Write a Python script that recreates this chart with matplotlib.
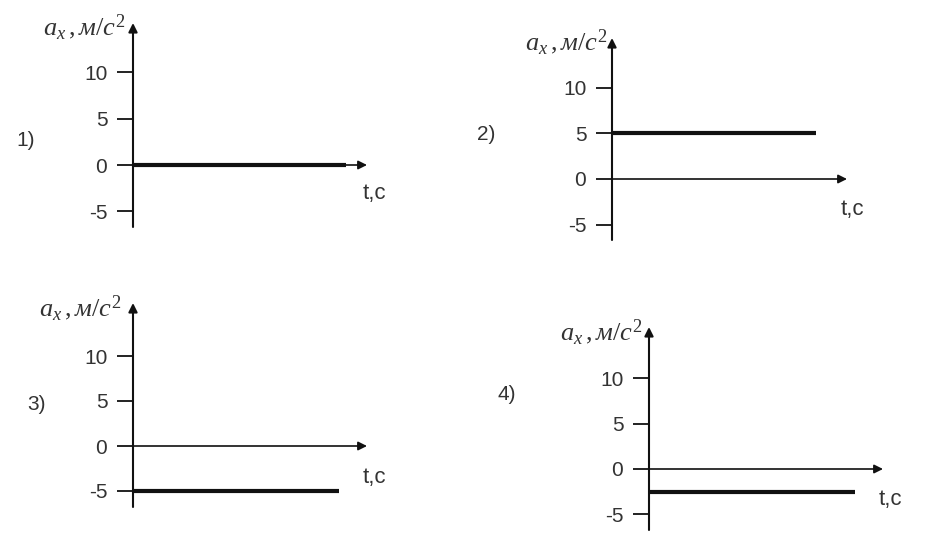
import matplotlib
matplotlib.use("Agg")
import matplotlib.pyplot as plt

W, H = 926, 538

plt.rcParams["font.family"] = ["Liberation Sans", "DejaVu Sans"]
plt.rcParams["mathtext.fontset"] = "custom"
plt.rcParams["mathtext.it"] = "Liberation Serif:italic"
plt.rcParams["mathtext.rm"] = "Liberation Serif"

# data: acceleration per graph and the time where the line stops
panel_names = ["1)", "2)", "3)", "4)"]
accel = [0, 5, -5, -2.5]
t_end = [9.1, 8.7, 8.8, 8.8]
y_ticks = [-5, 0, 5, 10]
y_label = r"$a_x\,,м/c^2$"
x_label = "t,c"

# layout in pixels: axis x, arrow top, axis bottom, arrow right, zero row, px per unit
boxes = [
    (133, 23, 227, 367, 165, 9.27),
    (612, 38, 240, 847, 179, 9.13),
    (133, 303, 507, 367, 446, 9.0),
    (649, 327, 530, 883, 469, 9.07),
]
name_pos = [(16, 140), (477, 135), (27, 405), (498, 395)]
tlab_pos = [(363, 193), (841, 210), (363, 478), (879, 500)]
ylab_pos = [(126, 35), (608, 50), (122, 316), (643, 340)]

fig = plt.figure(figsize=(W / 100, H / 100), dpi=100)
fig.patch.set_facecolor("white")

for i in range(4):
    x0, ytop, ybot, xr, yz, ppu = boxes[i]
    ax = fig.add_axes([x0 / W, 1 - ybot / H, (xr - x0) / W, (ybot - ytop) / H])
    ax.set_xlim(0, 10)
    ax.set_ylim((yz - ybot) / ppu, (yz - ytop) / ppu)
    for s in ax.spines.values():
        s.set_visible(False)
    ax.patch.set_alpha(0)
    ax.set_xticks([])
    ax.set_yticks(y_ticks)
    ax.set_yticklabels([str(v) for v in y_ticks], fontsize=15, color="#333333")
    ax.tick_params(axis="y", length=11.5, width=1.4, pad=7, direction="out",
                   color="#222222")

    # y axis with arrow
    ax.annotate("", xy=(0, 1), xytext=(0, 0), xycoords="axes fraction",
                arrowprops=dict(arrowstyle="-|>", mutation_scale=13, lw=1.5,
                                color="#111111", shrinkA=0, shrinkB=0))
    # t axis with arrow
    ax.annotate("", xy=(1, 0), xytext=(0, 0), xycoords=("axes fraction", "data"),
                arrowprops=dict(arrowstyle="-|>", mutation_scale=13, lw=1.2,
                                color="#111111", shrinkA=0, shrinkB=0))
    ax.plot([0, t_end[i]], [accel[i], accel[i]], color="#111111", lw=3,
            solid_capstyle="butt", clip_on=False)

    fig.text(name_pos[i][0] / W, 1 - name_pos[i][1] / H, panel_names[i],
             fontsize=15, ha="left", va="center", color="#333333")
    fig.text(tlab_pos[i][0] / W, 1 - tlab_pos[i][1] / H, x_label,
             fontsize=16, ha="left", va="center", color="#333333")
    fig.text(ylab_pos[i][0] / W, 1 - ylab_pos[i][1] / H, y_label,
             fontsize=19, ha="right", va="baseline", color="#333333")

plt.savefig("out.png", dpi=100, facecolor="white")
